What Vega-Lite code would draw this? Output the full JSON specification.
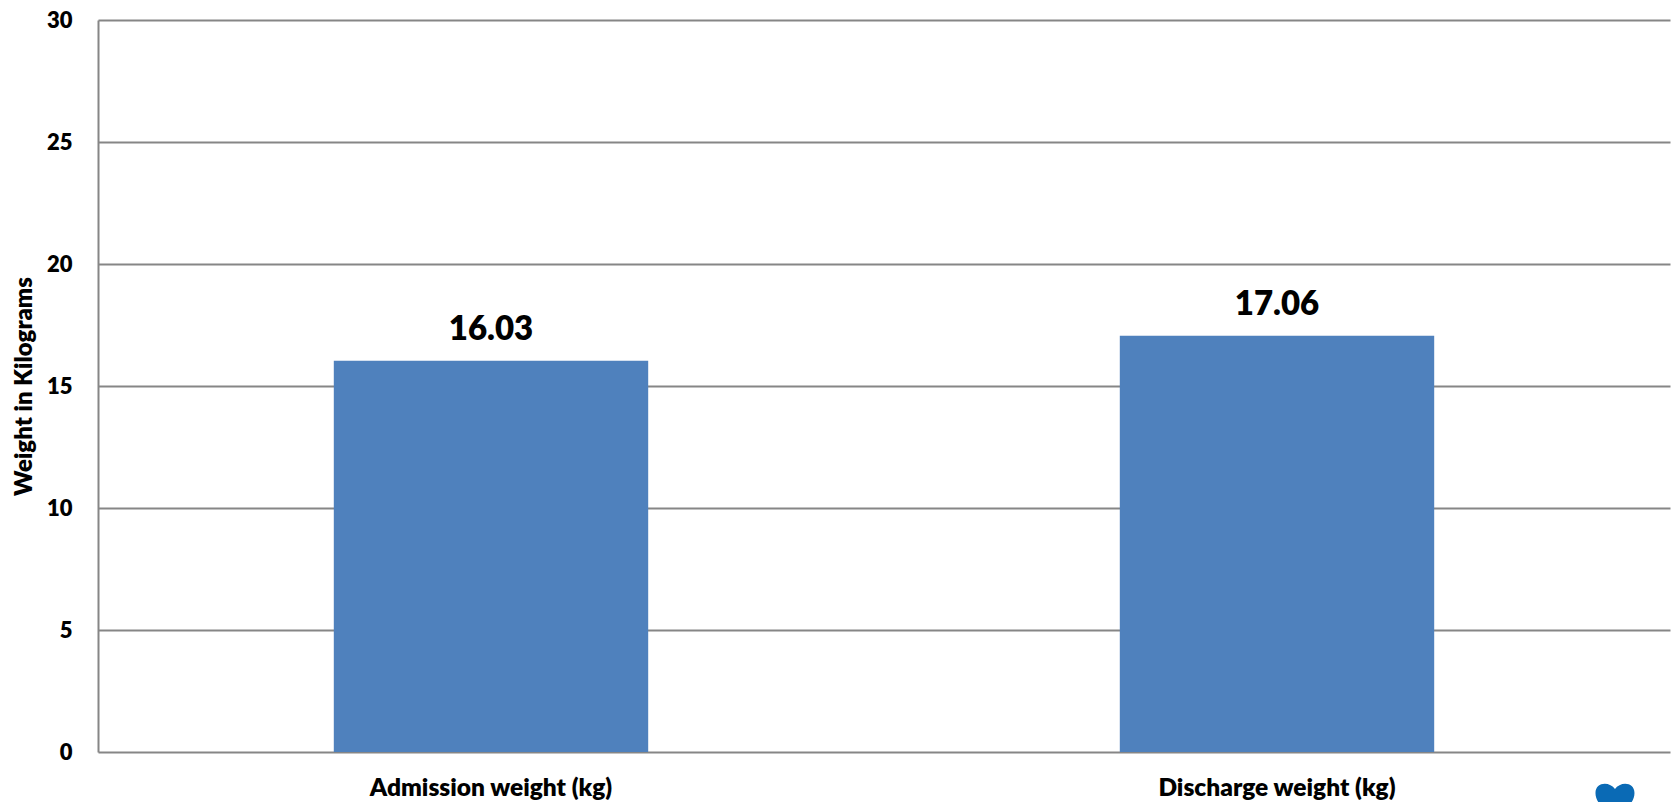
{"$schema":"https://vega.github.io/schema/vega-lite/v6.json","width":1572,"height":732,"autosize":{"type":"none"},"padding":{"left":98,"top":20,"right":5,"bottom":50},"background":"white","config":{"view":{"stroke":null},"font":"Lato"},"datasets":{"bars":[{"category":"Admission weight (kg)","weight":16.03},{"category":"Discharge weight (kg)","weight":17.06}],"logo":[{"pos":0.965,"level":-2.0}]},"layer":[{"data":{"name":"bars"},"encoding":{"x":{"field":"category","type":"nominal","sort":null,"scale":{"paddingInner":0,"paddingOuter":0},"axis":{"title":null,"labelAngle":0,"labelFont":"Lato","labelFontWeight":800,"labelFontSize":24.5,"labelLimit":500,"labelColor":"#000000","labelPadding":24,"ticks":false,"domain":false,"grid":false}},"y":{"field":"weight","type":"quantitative","scale":{"domain":[0,30],"nice":false},"axis":{"title":"Weight in Kilograms","titleFont":"Lato","titleFontWeight":800,"titleFontSize":24,"titleColor":"#000000","titlePadding":10,"values":[0,5,10,15,20,25,30],"labelFont":"Lato","labelFontWeight":800,"labelFontSize":22,"labelColor":"#000000","labelPadding":26,"ticks":false,"domain":true,"domainColor":"#868686","domainWidth":2,"grid":true,"gridColor":"#868686","gridWidth":2,"gridOpacity":1}}},"layer":[{"mark":{"type":"bar","color":"#4f81bd","width":{"band":0.4}}},{"mark":{"type":"text","dy":-31,"font":"Lato","fontWeight":800,"fontSize":33,"color":"#000000"},"encoding":{"text":{"field":"weight","type":"quantitative","format":".2f"}}}]},{"data":{"name":"logo"},"mark":{"type":"point","filled":true,"opacity":1,"color":"#0a6ab5","size":1521,"shape":"M0,-0.6 C-0.25,-1 -1,-1 -1,-0.4 C-1,0.2 -0.3,0.6 0,1 C0.3,0.6 1,0.2 1,-0.4 C1,-1 0.25,-1 0,-0.6 Z"},"encoding":{"x":{"field":"pos","type":"quantitative","scale":{"domain":[0,1],"nice":false},"axis":null},"y":{"field":"level","type":"quantitative"}}}],"resolve":{"scale":{"x":"independent"}}}
